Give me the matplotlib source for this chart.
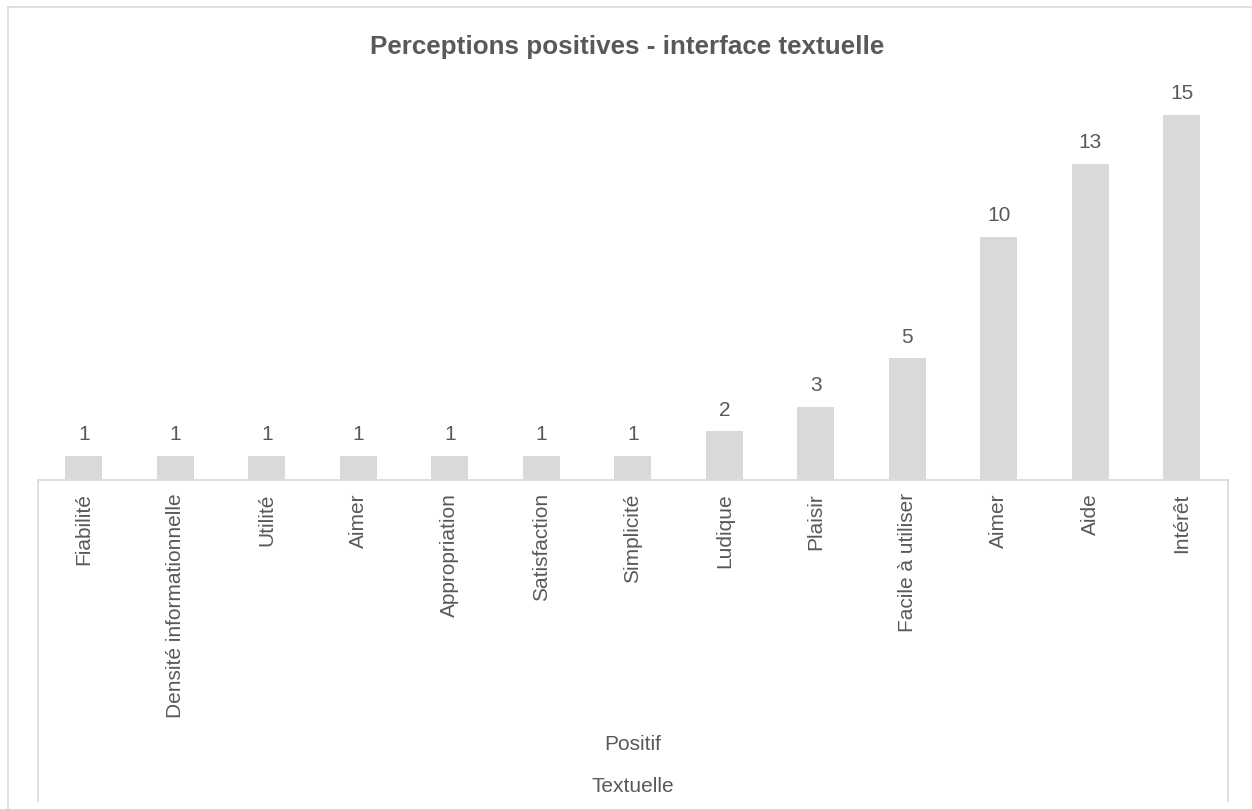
import matplotlib
matplotlib.use("Agg")
import matplotlib.pyplot as plt
from matplotlib.patches import Rectangle
from matplotlib.lines import Line2D

categories = ["Fiabilité", "Densité informationnelle", "Utilité", "Aimer",
              "Appropriation", "Satisfaction", "Simplicité", "Ludique",
              "Plaisir", "Facile à utiliser", "Aimer", "Aide", "Intérêt"]
values = [1, 1, 1, 1, 1, 1, 1, 2, 3, 5, 10, 13, 15]
group_label = "Positif"
outer_label = "Textuelle"
title = "Perceptions positives - interface textuelle"

W, H = 1252, 809
TXT = "#595959"
GRID = "#D9D9D9"
BAR = "#D9D9D9"

plt.rcParams["font.family"] = ["Liberation Sans", "DejaVu Sans"]

fig = plt.figure(figsize=(W / 100, H / 100), dpi=100)

def fx(px):
    return px / W

def fy(py):
    return 1 - py / H

# chart frame (runs past the right and bottom edges)
fig.add_artist(Rectangle((fx(8), fy(830)), fx(1290) - fx(8), fy(7) - fy(830),
                         transform=fig.transFigure, fill=False,
                         edgecolor=GRID, linewidth=1.2))

left, right = 38, 1227.5
base, top = 480, 90.7
ax = fig.add_axes([fx(left), fy(base), fx(right) - fx(left), fy(top) - fy(base)])

x = range(len(categories))
ax.bar(x, values, width=0.4, color=BAR, edgecolor="none")
for xi, v in zip(x, values):
    ax.annotate(str(v), (xi, v), xytext=(0, 8.5), textcoords="offset points",
                ha="center", va="bottom", fontsize=15, color=TXT)

ax.set_xlim(-0.5, len(categories) - 0.5)
ax.set_ylim(0, 16)
ax.set_xticks(list(x))
ax.set_xticklabels(categories, rotation=90, fontsize=15, color=TXT)
ax.tick_params(axis="x", length=0, pad=9.5)
ax.set_yticks([])
for s in ["top", "right", "left"]:
    ax.spines[s].set_visible(False)
ax.spines["bottom"].set_color(GRID)
ax.spines["bottom"].set_linewidth(1.2)

# multi-level category dividers
for px in (left, right):
    fig.add_artist(Line2D([fx(px), fx(px)], [fy(base), fy(801)],
                          transform=fig.transFigure, color=GRID, linewidth=1.2))

mid = (left + right) / 2
fig.text(fx(mid), fy(745), group_label, ha="center", va="center",
         fontsize=15, color=TXT)
fig.text(fx(mid), fy(787), outer_label, ha="center", va="center",
         fontsize=15, color=TXT)

fig.text(fx(627), fy(47), title, ha="center", va="center",
         fontsize=18.7, fontweight="bold", color=TXT)

fig.savefig("out.png", dpi=100)
